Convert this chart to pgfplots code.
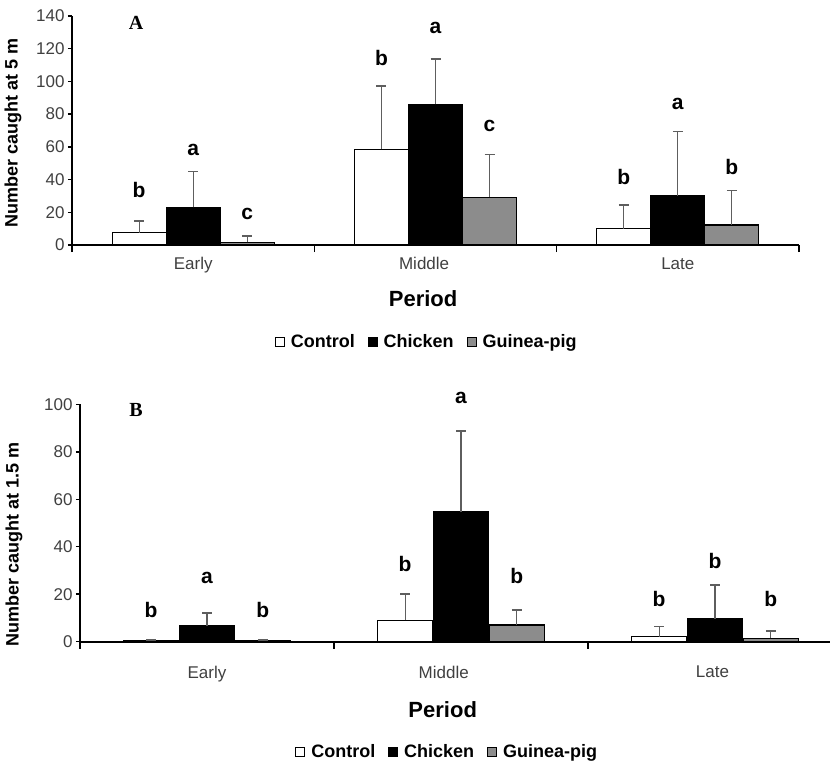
\documentclass[border=0pt]{standalone}
\usepackage{pgfplots}
\pgfplotsset{compat=1.18}
\usepackage{fontspec}
\setmainfont{Liberation Sans}
\newfontfamily\serifbf{Liberation Serif}
\definecolor{gpig}{HTML}{8C8C8C}
\definecolor{tickgray}{HTML}{404040}
\definecolor{errgray}{HTML}{5E5E5E}
\pgfplotsset{
  mybar/.style={ybar, bar width=#1, bar shift=0, line width=1.2pt, draw=black,
    error bars/.cd, y dir=plus, y explicit, error mark=-,
    error bar style={errgray, line width=1.2pt},
    error mark options={errgray, line width=1.5pt, mark size=5pt, rotate=90},
    /pgfplots/.cd,
    legend image code/.code={\draw[##1, line width=0.9pt] (0pt,-4.5pt) rectangle (9pt,4.5pt);}},
  letters/.style={only marks, mark=none, nodes near coords, point meta=explicit symbolic, forget plot,
    every node near coord/.style={anchor=base, font=\bfseries\fontsize{21}{25}\selectfont, inner sep=0pt, text=black}},
  panel/.style={scale only axis, xmin=-0.5, xmax=2.5, ymin=0, clip=false,
    axis x line*=bottom, axis y line*=left, axis line style={-, line width=2pt, black},
    tick align=outside, major tick length=7pt,
    tick style={black, line width=1.5pt},
    xtick={-0.5,0.5,1.5,2.5}, xticklabels={},
    extra x tick labels={Early,Middle,Late},
    extra x tick style={major tick length=0pt, tick style={draw=none}},
    ytick=\empty,
    extra y tick style={major tick length=4pt},
    xticklabel style={tickgray, font=\fontsize{17}{20}\selectfont, yshift=-9pt},
    yticklabel style={tickgray, font=\fontsize{17}{20}\selectfont},
    /pgf/number format/assume math mode=true,
    xlabel={Period},
    xlabel style={anchor=center, font=\bfseries\fontsize{22}{26}\selectfont},
    ylabel style={anchor=center, font=\bfseries\fontsize{18}{21}\selectfont},
    title style={anchor=center, font=\serifbf\bfseries\fontsize{20}{24}\selectfont},
    legend style={anchor=center, draw=none, fill=none, legend columns=3,
      font=\bfseries\fontsize{18}{21}\selectfont,
      /tikz/every odd column/.append style={column sep=4pt},
      /tikz/every even column/.append style={column sep=11pt}},
    legend cell align=left,
  }
}
\begin{document}
\begin{tikzpicture}
\path[use as bounding box] (0pt,0pt) rectangle (830pt,764pt);
% Panel A
\begin{axis}[panel, at={(72pt,519pt)}, anchor=south west, width=727pt, height=229pt,
  ymax=140, extra y ticks={0,20,...,140},
  extra x ticks={0,0.953,2},
  ylabel={Number caught at 5 m},
  ylabel style={at={(axis description cs:-0.0812,0.491)}},
  xlabel style={at={(axis description cs:0.483,-0.236)}},
  title={A}, title style={at={(axis description cs:0.088,0.943)}},
  legend style={at={(axis description cs:0.488,-0.4236)}}]
\addplot[mybar=0.223, fill=white] table[x=x, y=y, y error=e] {
x y e
-0.223 7.5 7.2
0.777 58.5 38.7
1.777 10 14.6
};
\addlegendentry{Control}
\addplot[mybar=0.223, fill=black] table[x=x, y=y, y error=e] {
x y e
0 23 21.8
1 86 27.7
2 30 39.3
};
\addlegendentry{Chicken}
\addplot[mybar=0.223, fill=gpig] table[x=x, y=y, y error=e] {
x y e
0.223 1.6 3.9
1.223 29.2 26.2
2.223 12.2 21.2
};
\addlegendentry{Guinea-pig}
\addplot[letters] table[x=x, y=y, meta=lab] {
x y lab
-0.223 29.3 b
0 55 a
0.223 15.3 c
0.777 110 b
1 129.6 a
1.223 69.3 c
1.777 36.7 b
2 83 a
2.223 42.8 b
};
\end{axis}
% Panel B
\begin{axis}[panel, at={(80pt,122.3pt)}, anchor=south west, width=762pt, height=237.4pt,
  ymax=100, extra y ticks={0,20,...,100},
  extra x ticks={0,0.932,1.99},
  xticklabel style={yshift=-12pt},
  ylabel={Number caught at 1.5 m},
  ylabel style={at={(axis description cs:-0.0866,0.41)}},
  xlabel style={at={(axis description cs:0.476,-0.288)}},
  title={B}, title style={at={(axis description cs:0.0735,0.95)}},
  legend style={at={(axis description cs:0.482,-0.4646)}}]
\addplot[mybar=0.219, fill=white] table[x=x, y=y, y error=e] {
x y e
-0.22 0.3 0.5
0.78 9.1 11.0
1.78 2.1 4.2
};
\addlegendentry{Control}
\addplot[mybar=0.219, fill=black] table[x=x, y=y, y error=e] {
x y e
0 6.6 5.4
1 54.8 34.0
2 9.7 14.2
};
\addlegendentry{Chicken}
\addplot[mybar=0.219, fill=gpig] table[x=x, y=y, y error=e] {
x y e
0.22 0.3 0.5
1.22 7.0 6.3
2.22 1.4 3.1
};
\addlegendentry{Guinea-pig}
\addplot[letters] table[x=x, y=y, meta=lab] {
x y lab
-0.22 10 b
0 24.7 a
0.22 10 b
0.78 29.5 b
1 100.5 a
1.22 24.7 b
1.78 14.7 b
2 31 b
2.22 14.7 b
};
\end{axis}
\end{tikzpicture}
\end{document}
